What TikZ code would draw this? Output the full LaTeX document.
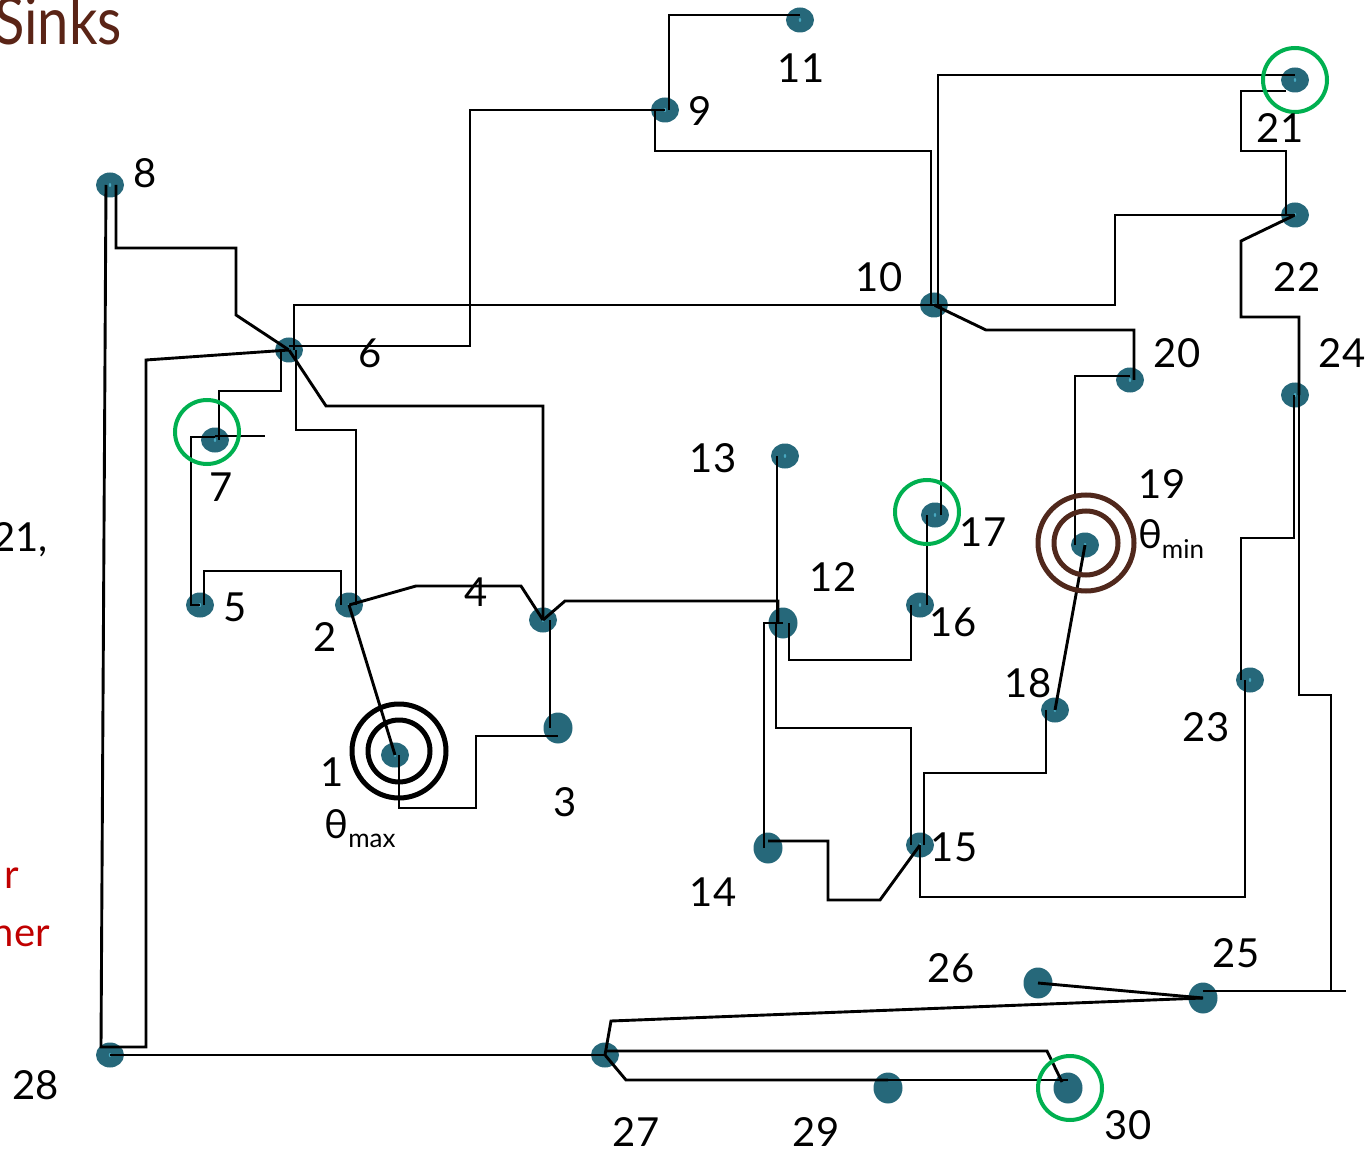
\documentclass[tikz,border=0pt]{standalone}
\usepackage{fontspec}
\setmainfont{Lato}
\usetikzlibrary{shapes.geometric}

\definecolor{dotteal}{RGB}{38,104,122}
\definecolor{dotspeck}{RGB}{72,168,192}
\definecolor{sinkgreen}{RGB}{0,176,80}
\definecolor{minbrown}{RGB}{80,40,28}
\definecolor{titlebrown}{RGB}{90,36,22}
\definecolor{notered}{RGB}{192,0,0}

\begin{document}
\begin{tikzpicture}[
    x=1pt, y=-1pt,
    d/.style={ellipse, fill=dotteal, minimum width=28pt, minimum height=25pt, inner sep=0pt,
      path picture={\fill[dotspeck] (path picture bounding box.center) ellipse (1.2pt and 2pt);}},
    db/.style={ellipse, fill=dotteal, minimum width=29pt, minimum height=31pt, inner sep=0pt},
    lbl/.style={font=\fontsize{40}{44}\selectfont, inner sep=0pt},
    w/.style={line width=2.9pt, line join=miter},
    sk/.style={circle, draw=sinkgreen, line width=4pt, minimum size=64pt, inner sep=0pt},
    rg/.style={circle, line width=5pt, inner sep=0pt},
]
\useasboundingbox (0,0) rectangle (1366,1150);

% slide text cut by the frame
\node[font=\fontsize{66}{72}\selectfont, text=titlebrown, anchor=base east, inner sep=0pt] (title) at (122,45) {\scalebox{0.85}[1]{Sinks}};
\node[lbl, anchor=base east] (cut21) at (48,551) {21,};
\node[lbl, text=notered, anchor=base east] (cutr) at (19,888) {r};
\node[lbl, text=notered, anchor=base east] (cutner) at (50,946) {ner};

% sensor nodes
\node[d] (n1) at (395,755) {};
\node[d] (n2) at (349,605) {};
\node[db] (n3) at (558,728) {};
\node[d] (n4) at (543,620) {};
\node[d] (n5) at (200,605) {};
\node[d] (n6) at (289,350) {};
\node[d] (n7) at (215,440) {};
\node[d] (n8) at (110,185) {};
\node[d] (n9) at (665,110) {};
\node[d] (n10) at (934,305) {};
\node[d] (n11) at (800,20) {};
\node[db] (n12) at (783,623) {};
\node[d] (n13) at (785,456) {};
\node[db] (n14) at (768,848) {};
\node[d] (n15) at (920,845) {};
\node[d] (n16) at (920,605) {};
\node[d] (n17) at (935,515) {};
\node[d] (n18) at (1055,710) {};
\node[d] (n19) at (1085,545) {};
\node[d] (n20) at (1130,380) {};
\node[d] (n21) at (1295,80) {};
\node[d] (n22) at (1295,215) {};
\node[d] (n23) at (1250,680) {};
\node[d] (n24) at (1295,395) {};
\node[db] (n25) at (1203,998) {};
\node[db] (n26) at (1038,983) {};
\node[d] (n27) at (605,1055) {};
\node[d] (n28) at (110,1055) {};
\node[db] (n29) at (888,1088) {};
\node[db] (n30) at (1068,1088) {};
\coordinate (e7) at (265,436);
\coordinate (e25) at (1346,991);

% links
\draw[w] ([xshift=-4pt]n8.center) -- (101,1047) -- (146,1047) -- (146,360) -- (n6.center);
\draw[w] ([xshift=6pt]n8.center) |- (236,248) -- (236,315) -- (n6.center);
\draw[w] (n28.center) -- (n27.center);
\draw[w] ([xshift=5pt]n6.center) |- (n10.center);
\draw[w] ([yshift=4pt]n6.center) -| (470,110) -- (n9.center);
\draw[w] (n6.center) -- (326,406) -| (n4.center);
\draw[w] ([xshift=7pt]n6.center) -- (296,430) -- (356,430) -- ([xshift=7pt]n2.center);
\draw[w] ([xshift=-8pt]n6.center) |- (219,391) -- ([xshift=4pt]n7.center);
\draw[w] ([yshift=4pt]n7.center) -- (e7);
\draw[w] ([yshift=3pt]n7.center) -- (191,437) -- (191,605) -- (n5.center);
\draw[w] ([xshift=4pt]n5.center) |- (341,571) -- ([xshift=-8pt]n2.center);
\draw[w] (n2.center) -- (416,586) -- (521,586) -- (n4.center);
\draw[w] (n2.center) -- (n1.center);
\draw[w] ([xshift=4pt]n1.center) |- (476,808) |- ([yshift=-8pt]n3.center);
\draw[w] ([xshift=7pt]n4.center) -- ([xshift=-8pt]n3.center);
\draw[w] (n4.center) -- (565,601) -| ([xshift=-5pt]n12.center);
\draw[w] ([xshift=-8pt]n13.center) -- ([xshift=-6pt]n12.center);
\draw[w] (n12.center) -| ([xshift=-4pt]n14.center);
\draw[w] ([xshift=-7pt]n12.center) |- (911,728) -- ([xshift=-9pt]n15.center);
\draw[w] ([xshift=6pt]n12.center) |- (911,660) -- ([xshift=-9pt]n16.center);
\draw[w] ([yshift=7pt]n14.center) -| (828,900) -- (880,900) -- (n15.center);
\draw[w] (n15.center) |- (1245,897) -- ([xshift=-5pt]n23.center);
\draw[w] ([xshift=4pt]n15.center) |- (1046,773) -- ([xshift=-9pt]n18.center);
\draw[w] (n18.center) -- (n19.center);
\draw[w] ([xshift=-10pt]n19.center) |- ([yshift=4pt]n20.center);
\draw[w] ([xshift=7pt]n16.center) -- ([xshift=-8pt]n17.center);
\draw[w] ([xshift=6pt]n17.center) -- ([xshift=7pt]n10.center);
\draw[w] (n10.center) -- (986,330) -| ([xshift=4pt]n20.center);
\draw[w] (n10.center) -| (1115,215) -- (n22.center);
\draw[w] ([xshift=4pt]n10.center) |- ([yshift=5pt]n21.center);
\draw[w] ([xshift=-3pt]n10.center) |- (655,151) -- ([xshift=-10pt]n9.center);
\draw[w] ([xshift=4pt]n9.center) |- ([yshift=5pt]n11.center);
\draw[w] ([xshift=-9pt,yshift=-11pt]n21.center) -| (1241,151) -| ([xshift=-9pt]n22.center);
\draw[w] (n22.center) -- (1241,241) |- (1299,317) -- ([xshift=4pt]n24.center);
\draw[w] ([xshift=-1pt]n24.center) |- (1241,538) -- ([xshift=-9pt]n23.center);
\draw[w] ([xshift=4pt]n24.center) |- (1331,695) |- ([yshift=7pt]n25.center);
\draw[w] ([yshift=7pt]n25.center) -- (e25);
\draw[w] (n26.center) -- (n25.center);
\draw[w] (n25.center) -- (611,1021) -- (n27.center);
\draw[w] ([yshift=4pt]n27.center) -- (1047,1051) -- ([xshift=-6pt,yshift=6pt]n30.center);
\draw[w] (n27.center) -- (626,1080) -- ([yshift=8pt]n29.center);
\draw[w] ([yshift=8pt]n29.center) -- ([yshift=8pt]n30.center);

% sinks and extremes
\node[sk] (sk7) at (207,432) {};
\node[sk] (sk17) at (927,512) {};
\node[sk] (sk21) at (1295,80) {};
\node[sk] (sk30) at (1070,1088) {};
\node[rg, draw=black, minimum size=94pt] (maxout) at (399,751) {};
\node[rg, draw=black, minimum size=62pt] (maxin) at (399,751) {};
\node[rg, draw=minbrown, minimum size=96pt] (minout) at (1086,543) {};
\node[rg, draw=minbrown, minimum size=64pt] (minin) at (1086,543) {};

% numbers
\node[lbl] (l1) at (332,772) {1};
\node[lbl] (tmax) at (360,829) {θ\raisebox{-0.45ex}{\fontsize{26}{28}\selectfont max}};
\node[lbl] (l2) at (325,637) {2};
\node[lbl] (l3) at (565,802) {3};
\node[lbl] (l4) at (476,592) {4};
\node[lbl] (l5) at (235,607) {5};
\node[lbl] (l6) at (370,353) {6};
\node[lbl] (l7) at (221,487) {7};
\node[lbl] (l8) at (145,173) {8};
\node[lbl] (l9) at (700,111) {9};
\node[lbl] (l10) at (879,277) {10};
\node[lbl] (l11) at (801,68) {11};
\node[lbl] (l12) at (833,577) {12};
\node[lbl] (l13) at (713,458) {13};
\node[lbl] (l14) at (713,892) {14};
\node[lbl] (l15) at (954,847) {15};
\node[lbl] (l16) at (953,622) {16};
\node[lbl] (l17) at (983,532) {17};
\node[lbl] (l18) at (1028,683) {18};
\node[lbl] (l19) at (1162,484) {19};
\node[lbl] (tmin) at (1171,539) {θ\raisebox{-0.45ex}{\fontsize{26}{28}\selectfont min}};
\node[lbl] (l20) at (1177,353) {20};
\node[lbl] (l21) at (1280,128) {21};
\node[lbl] (l22) at (1297,277) {22};
\node[lbl] (l23) at (1206,727) {23};
\node[lbl] (l24) at (1342,353) {24};
\node[lbl] (l25) at (1236,953) {25};
\node[lbl] (l26) at (951,968) {26};
\node[lbl] (l27) at (636,1132) {27};
\node[lbl] (l28) at (36,1085) {28};
\node[lbl] (l29) at (816,1132) {29};
\node[lbl] (l30) at (1128,1125) {30};
\end{tikzpicture}
\end{document}
